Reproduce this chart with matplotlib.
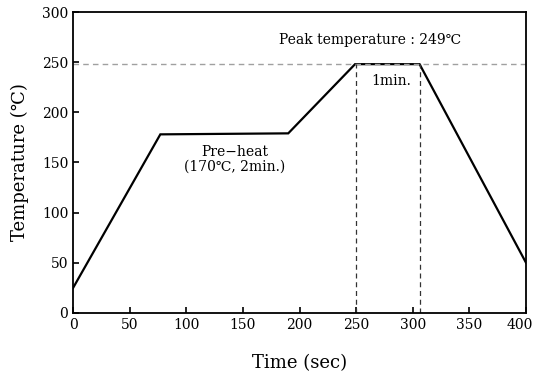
import matplotlib
matplotlib.use("Agg")
import matplotlib.pyplot as plt
from matplotlib.transforms import ScaledTranslation

plt.rcParams['font.family'] = ['DejaVu Serif']

# reflow profile
time_s = [0, 77, 190, 249, 306, 400]
temp_c = [25, 178, 179, 248, 248, 50]
peak_temp = 248
hold_start, hold_end = 250, 306
xticks = [0, 50, 100, 150, 200, 250, 300, 350, 400]
yticks = [0, 50, 100, 150, 200, 250, 300]

fig = plt.figure(figsize=(5.34, 3.76), dpi=100)
ax = fig.add_axes([0.137, 0.168, 0.848, 0.800])

ax.plot(time_s, temp_c, color='black', lw=1.6, solid_joinstyle='miter')
ax.axhline(peak_temp, color='#a0a0a0', lw=1, ls=(0, (4, 3)))
ax.plot([hold_start, hold_start], [0, peak_temp], color='#333333', lw=0.9, ls=(0, (4, 3)))
ax.plot([hold_end, hold_end], [0, peak_temp], color='#333333', lw=0.9, ls=(0, (4, 3)))

ax.text(262, 272, 'Peak temperature : 249\u2103', ha='center', va='center', fontsize=10)
ax.text(281, 231, '1min.', ha='center', va='center', fontsize=10)
ax.text(143, 153, 'Pre\u2212heat\n(170\u2103, 2min.)', ha='center', va='center',
        fontsize=10, linespacing=1.1)

ax.set_xlim(0, 400)
ax.set_ylim(0, 300)
ax.set_xticks(xticks)
ax.set_yticks(yticks)
ax.tick_params(direction='in', length=4, width=1.2, labelsize=10,
               top=False, right=False)
for s in ax.spines.values():
    s.set_linewidth(1.3)

# keep the last x label inside the figure
last = ax.get_xticklabels()[-1]
last.set_transform(last.get_transform() + ScaledTranslation(-6 / 100, 0, fig.dpi_scale_trans))

ax.set_xlabel('Time (sec)', fontsize=13, labelpad=16)
ax.set_ylabel('Temperature (\u2103)', fontsize=13, labelpad=9)

fig.savefig('out.png', dpi=100)
